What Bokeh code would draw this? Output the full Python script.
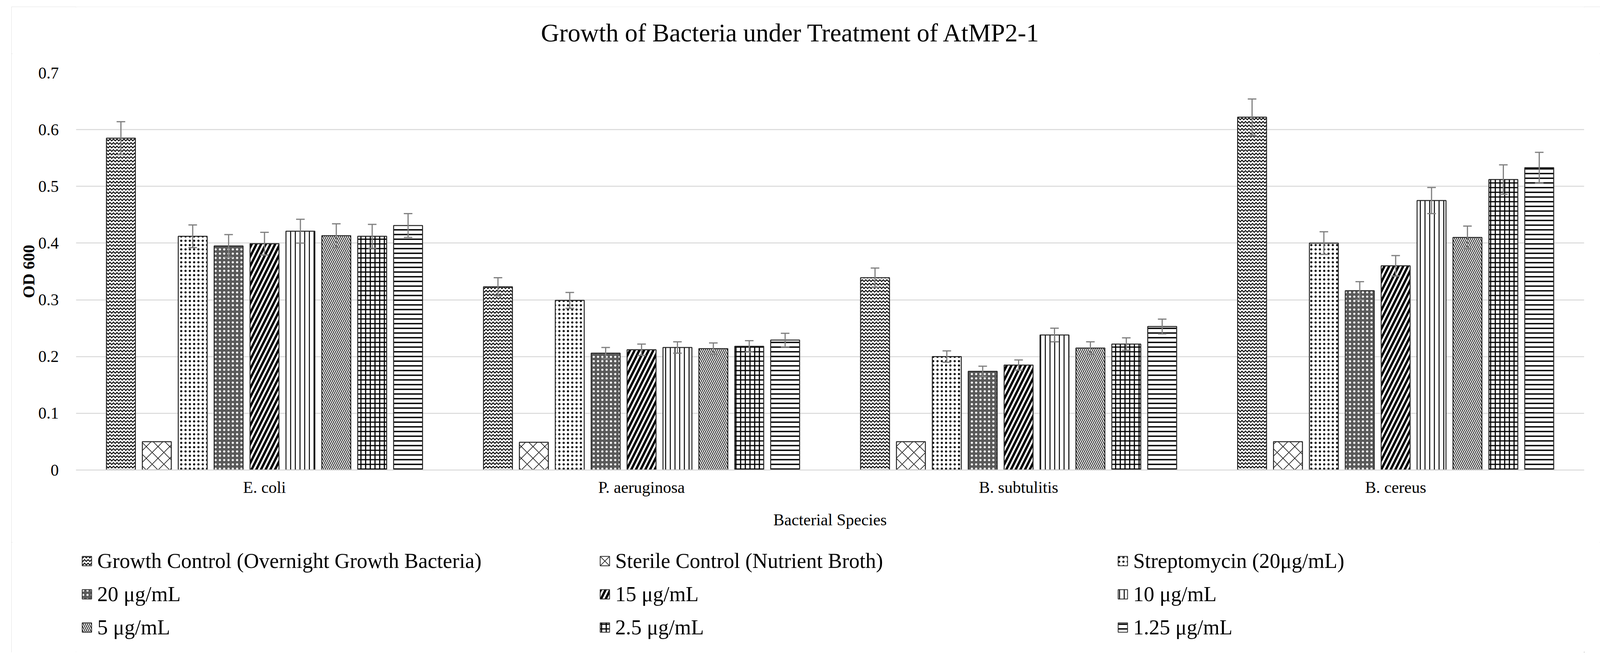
from bokeh.plotting import figure
from bokeh.models import (ColumnDataSource, FactorRange, Range1d, FixedTicker, Legend,
                          LegendItem, Whisker, Spacer)
from bokeh.transform import dodge
from bokeh.layouts import row, column
from bokeh.embed import file_html
from bokeh.resources import INLINE
from bokeh.core.properties import value

# ---------------- data ----------------
title_text = "Growth of Bacteria under Treatment of AtMP2-1"
categories = ["E. coli", "P. aeruginosa", "B. subtulitis", "B. cereus"]

series_names = [
    "Growth Control (Overnight Growth Bacteria)",
    "Sterile Control (Nutrient Broth)",
    "Streptomycin (20μg/mL)",
    "20 μg/mL",
    "15 μg/mL",
    "10 μg/mL",
    "5 μg/mL",
    "2.5 μg/mL",
    "1.25 μg/mL",
]

growth_control = [0.585, 0.323, 0.339, 0.622]
sterile_control = [0.050, 0.049, 0.050, 0.050]
streptomycin = [0.412, 0.299, 0.200, 0.400]
conc_20 = [0.395, 0.206, 0.174, 0.316]
conc_15 = [0.399, 0.212, 0.185, 0.360]
conc_10 = [0.421, 0.216, 0.238, 0.475]
conc_5 = [0.413, 0.214, 0.215, 0.410]
conc_2_5 = [0.412, 0.218, 0.222, 0.512]
conc_1_25 = [0.431, 0.229, 0.253, 0.533]

err_growth_control = [0.029, 0.016, 0.017, 0.032]
err_sterile_control = [0.0, 0.0, 0.0, 0.0]
err_streptomycin = [0.020, 0.014, 0.010, 0.020]
err_20 = [0.020, 0.010, 0.009, 0.016]
err_15 = [0.020, 0.010, 0.009, 0.018]
err_10 = [0.021, 0.010, 0.012, 0.023]
err_5 = [0.021, 0.010, 0.011, 0.020]
err_2_5 = [0.021, 0.010, 0.011, 0.026]
err_1_25 = [0.021, 0.012, 0.013, 0.027]

y_ticks = [0, 0.1, 0.2, 0.3, 0.4, 0.5, 0.6, 0.7]
y_tick_labels = ["0", "0.1", "0.2", "0.3", "0.4", "0.5", "0.6", "0.7"]

values = [growth_control, sterile_control, streptomycin, conc_20, conc_15,
          conc_10, conc_5, conc_2_5, conc_1_25]
errors = [err_growth_control, err_sterile_control, err_streptomycin, err_20, err_15,
          err_10, err_5, err_2_5, err_1_25]

# ---------------- styles ----------------
styles = [
    dict(fill_color="white", hatch_pattern="horizontal_wave", hatch_scale=9, hatch_weight=2.4),
    dict(fill_color="white", hatch_pattern="diagonal_cross", hatch_scale=30, hatch_weight=1.5),
    dict(fill_color="white", hatch_pattern="dot", hatch_scale=11, hatch_weight=1.5),
    dict(fill_color="#5a5a5a", hatch_pattern="dot", hatch_scale=11, hatch_weight=2, hatch_color="white"),
    dict(fill_color="white", hatch_pattern="right_diagonal_line", hatch_scale=24, hatch_weight=6),
    dict(fill_color="white", hatch_pattern="vertical_line", hatch_scale=12, hatch_weight=2.5),
    dict(fill_color="white", hatch_pattern="left_diagonal_line", hatch_scale=10, hatch_weight=1.8),
    dict(fill_color="white", hatch_pattern="cross", hatch_scale=12, hatch_weight=3),
    dict(fill_color="white", hatch_pattern="horizontal_line", hatch_scale=12, hatch_weight=3.5),
]

FONT = "Liberation Serif"
GRID = "#d9d9d9"
TOTAL_W = 4069
TOTAL_H = 1652
TITLE_H = 120
CHART_H = 1370          # title strip + chart (incl. x axis)
LEG_H = TOTAL_H - CHART_H
BORDER_L = 165
BORDER_R = 43
FRAME_W = TOTAL_W - BORDER_L - BORDER_R

# ---------------- title strip ----------------
tf = figure(width=TOTAL_W, height=TITLE_H, output_backend="svg", toolbar_location=None,
            x_axis_type=None, y_axis_type=None, x_range=Range1d(0, FRAME_W),
            y_range=Range1d(0, TITLE_H), min_border=0, min_border_left=BORDER_L,
            min_border_right=BORDER_R, min_border_top=0, min_border_bottom=0,
            outline_line_color=None)
tf.grid.visible = False
tf.text(x=[1830], y=[TITLE_H - 66], text=[title_text], text_align="center",
        text_baseline="middle", text_font=value(FONT), text_font_size="65px",
        text_color="black")

# ---------------- chart ----------------
p = figure(x_range=FactorRange(*categories), y_range=Range1d(0, 0.7),
           width=TOTAL_W, height=CHART_H - TITLE_H, output_backend="svg",
           toolbar_location=None,
           min_border_left=BORDER_L, min_border_right=BORDER_R, min_border_top=169 - TITLE_H,
           min_border_bottom=CHART_H - 1185, outline_line_color=None)

# ---------------- legend strip ----------------
lf = figure(width=TOTAL_W, height=LEG_H, output_backend="svg", toolbar_location=None,
            x_axis_type=None, y_axis_type=None,
            x_range=FactorRange(*categories), y_range=Range1d(1, 2),
            min_border_left=BORDER_L, min_border_right=BORDER_R, min_border_top=0,
            min_border_bottom=0, outline_line_color=None)
lf.grid.visible = False

step = 0.0952
bar_w = 0.0767
items = []
for i, (name, vals, errs, st) in enumerate(zip(series_names, values, errors, styles)):
    off = (i - 4) * step
    src = ColumnDataSource(dict(cat=categories, val=vals,
                                upper=[v + e for v, e in zip(vals, errs)],
                                lower=[v - e for v, e in zip(vals, errs)]))
    kw = dict(hatch_color="black")
    kw.update(st)
    p.vbar(x=dodge("cat", off, range=p.x_range), top="val", width=bar_w, source=src,
           line_color="#262626", line_width=2.5, **kw)
    # legend swatch renderer: same series, placed far outside the strip's visible area
    lr = lf.vbar(x=dodge("cat", 40, range=lf.x_range), top="val", width=0.05, source=src,
                 line_color="#262626", line_width=2, **kw)
    items.append(LegendItem(label=name, renderers=[lr]))
    if any(e > 0 for e in errs):
        w = Whisker(source=src, base=dodge("cat", off, range=p.x_range), upper="upper",
                    lower="lower", line_color="#7f7f7f", line_width=3, level="annotation")
        w.upper_head.size = 22
        w.lower_head.size = 22
        w.upper_head.line_color = "#7f7f7f"
        w.lower_head.line_color = "#7f7f7f"
        w.upper_head.line_width = 3
        w.lower_head.line_width = 3
        p.add_layout(w)

# axes
p.xgrid.grid_line_color = None
p.ygrid.grid_line_color = GRID
p.ygrid.grid_line_width = 2.5
p.yaxis.ticker = FixedTicker(ticks=y_ticks)
p.yaxis.major_label_overrides = {t: l for t, l in zip(y_ticks, y_tick_labels)}

for ax in (p.xaxis[0], p.yaxis[0]):
    ax.major_tick_line_color = None
    ax.minor_tick_line_color = None
    ax.major_label_text_font = FONT
    ax.major_label_text_font_size = "42px"
    ax.major_label_text_color = "black"
    ax.axis_label_text_font = FONT
    ax.axis_label_text_font_size = "42px"
    ax.axis_label_text_font_style = "normal"
    ax.axis_label_text_color = "black"

p.yaxis.axis_line_color = None
p.yaxis.major_label_standoff = 38
p.yaxis.axis_label = "OD 600"
p.yaxis.axis_label_text_font_style = "bold"
p.yaxis.axis_label_standoff = -2

p.xaxis.axis_line_color = GRID
p.xaxis.axis_line_width = 2.5
p.xaxis.major_label_standoff = 15
p.xaxis.axis_label = "Bacterial Species"
p.xaxis.axis_label_standoff = 34

legend = Legend(items=items, orientation="horizontal", ncols=3, location="top_left",
                label_text_font=FONT, label_text_font_size="54px", label_text_color="black",
                glyph_width=30, glyph_height=30, label_standoff=12, label_width=1269,
                label_height=70, spacing=15, padding=16, margin=13,
                border_line_color=None, background_fill_alpha=0)
lf.add_layout(legend)

chart = column(tf, p, lf, spacing=0)
chart.styles = {"outline": "3px solid #d9d9d9", "outline-offset": "-3px"}
layout = row(Spacer(width=29), column(Spacer(height=17), chart))
open("out.html", "w").write(file_html(layout, INLINE))
